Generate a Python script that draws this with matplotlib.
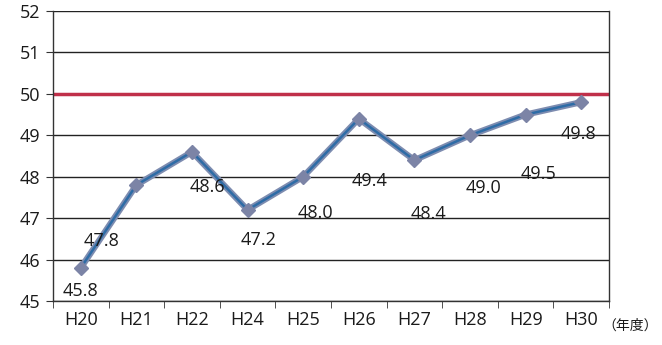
import matplotlib
matplotlib.use("Agg")
import matplotlib.pyplot as plt

categories = ["H20", "H21", "H22", "H24", "H25", "H26", "H27", "H28", "H29", "H30"]
values = [45.8, 47.8, 48.6, 47.2, 48.0, 49.4, 48.4, 49.0, 49.5, 49.8]
target = 50
y_ticks = [45, 46, 47, 48, 49, 50, 51, 52]
unit_label = "（年度）"

# label offsets in points (layout only)
label_offsets = [(0, -17), (-25, -40), (11, -25), (8, -22), (9, -26), (8, -45), (10, -39), (10, -38), (9, -43), (-2, -23)]

plt.rcParams['font.family'] = ['Open Sans', 'Noto Sans CJK JP', 'DejaVu Sans']

fig = plt.figure(figsize=(6.62, 3.45), dpi=100)
ax = fig.add_axes([0.080, 0.1275, 0.840, 0.8405])

x = list(range(len(categories)))
ax.set_xlim(-0.5, len(categories) - 0.5)
ax.set_ylim(45, 52)

for yv in y_ticks:
    ax.axhline(yv, color='#222222', lw=1.0, zorder=1)
ax.axhline(target, color='#c0304a', lw=2.5, zorder=2)

ax.plot(x, values, color='#7d8cb0', lw=4.5, zorder=3, solid_capstyle='round')
ax.plot(x, values, color='#2e6ca6', lw=1.8, zorder=3)
ax.plot(x, values, linestyle='none', marker='D', markersize=7.5,
        markerfacecolor='#7c84a6', markeredgecolor='#7c84a6', zorder=4)

for xi, v, off in zip(x, values, label_offsets):
    ax.annotate(f"{v:.1f}", (xi, v), xytext=off, textcoords='offset points',
                ha='center', va='center', fontsize=13, color='#1a1a1a', zorder=5)

ax.set_yticks(y_ticks)
ax.set_yticklabels([str(t) for t in y_ticks], fontsize=13, color='#1a1a1a')
ax.set_xticks(x)
ax.set_xticklabels(categories, fontsize=13, color='#1a1a1a')
ax.tick_params(axis='x', length=0, pad=7)
ax.set_xticks([i - 0.5 for i in range(len(categories) + 1)], minor=True)
ax.tick_params(axis='x', which='minor', length=5, direction='out', color='#333333')
ax.tick_params(axis='y', length=5, direction='out', color='#333333', pad=4)

for s in ['left', 'right', 'bottom']:
    ax.spines[s].set_color('#333333')
    ax.spines[s].set_linewidth(1.0)
ax.spines['top'].set_visible(False)

fig.text(0.952, 0.055, unit_label, fontsize=10, ha='center', va='center',
         color='#1a1a1a', family=['Noto Sans CJK JP', 'DejaVu Sans'])

fig.savefig("out.png", dpi=100)
